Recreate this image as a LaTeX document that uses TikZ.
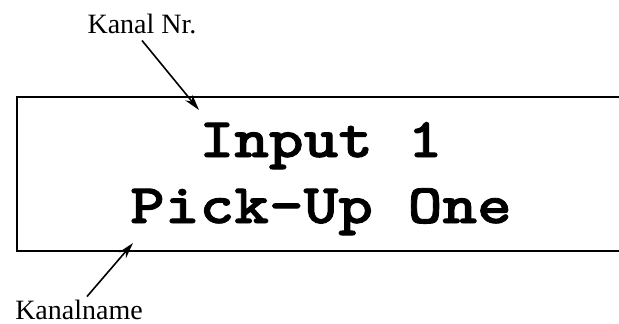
\documentclass[tikz,border=0pt]{standalone}
\usepackage{fontspec}
\setmainfont{Liberation Serif}
\newfontfamily\lcdfont[FakeStretch=1.18,FakeBold=1.5]{lmmonolt10-bold.otf}
\usetikzlibrary{arrows.meta}
\tikzstyle{note} = [font=\fontsize{14}{16}\selectfont, anchor=base]
\tikzstyle{lcdtext} = [font=\lcdfont\fontsize{28}{33}\selectfont, anchor=base]
\tikzstyle{display} = [line width=0.8pt]
\tikzstyle{arrow} = [thick,->,>={Stealth[length=8pt,width=4.5pt,inset=2.5pt]}]

\begin{document}
\begin{tikzpicture}[x=0.5pt,y=-0.5pt]
	\useasboundingbox (0,0) rectangle (619,323);
	% display frame, runs off to the right
	\draw [display] (619,97) -- (17,97) -- (17,251) -- (619,251);
	\node (line1) [lcdtext] at (321,157) {Input 1};
	\node (line2) [lcdtext] at (321,223) {Pick-Up One};
	\node (nr) [note] at (142,33) {Kanal Nr.};
	\node (name) [note] at (79,319) {Kanalname};
	\coordinate (nrtip) at (199,110);
	\coordinate (nametip) at (133,243);
	\draw [arrow] (nr.south) -- (nrtip);
	\draw [arrow] ([xshift=4pt,yshift=-2pt]name.north) -- (nametip);
\end{tikzpicture}
\end{document}
